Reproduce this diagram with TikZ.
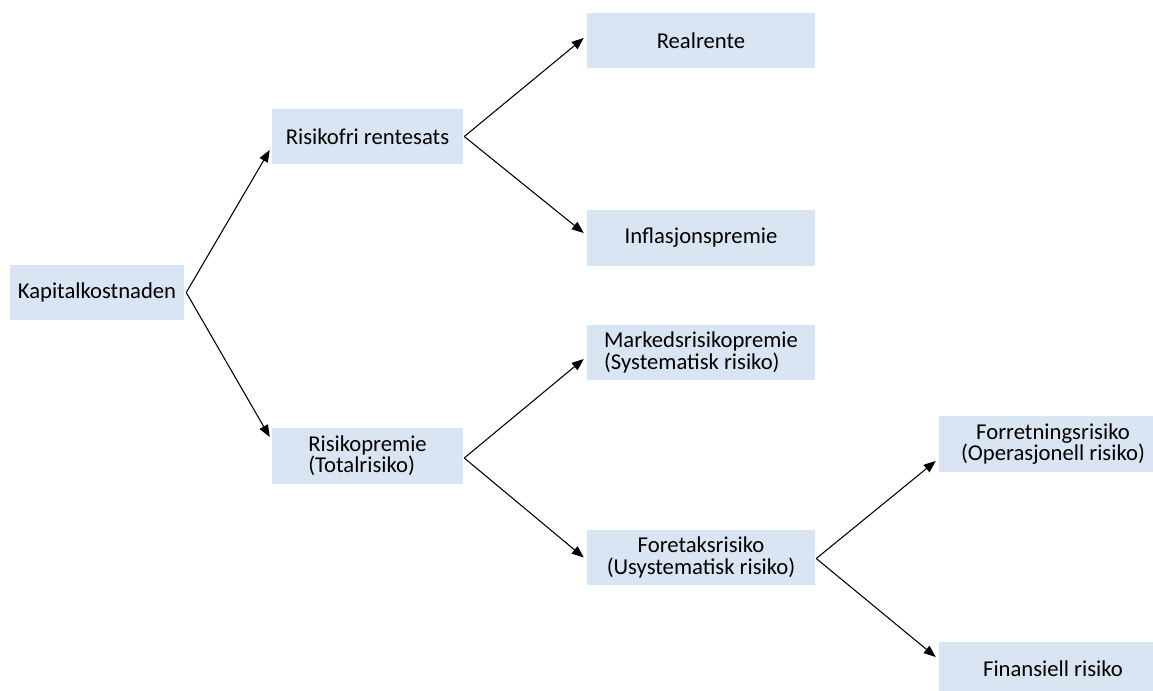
\documentclass[tikz,border=0pt]{standalone}
\usepackage{fontspec}
\setmainfont{Carlito}
\usetikzlibrary{arrows.meta,calc}
\definecolor{boxfill}{HTML}{DAE5F3}
\tikzset{
  box/.style={fill=boxfill, draw=none, minimum width=228*0.75pt, minimum height=55*0.75pt, inner sep=0pt,
              font=\fontsize{17pt}{16pt}\selectfont, text=black},
  conn/.style={line width=0.8pt, -{Triangle[length=9pt,width=7pt]}}
}
\begin{document}
\begin{tikzpicture}[x=0.75pt,y=-0.75pt]
\clip (0,0) rectangle (1153,690);
\fill[white] (0,0) rectangle (1153,690);
\node[box, minimum width=174*0.75pt] (kap) at (97,292.5) {Kapitalkostnaden};
\node[box, minimum width=191*0.75pt] (rf) at (367.5,136.5) {Risikofri rentesats};
\node[box, minimum width=191*0.75pt, minimum height=56*0.75pt, align=left] (rp) at (367.5,456) {Risikopremie\\(Totalrisiko)};
\node[box] (real) at (701,40.5) {Realrente};
\node[box, minimum height=56*0.75pt] (infl) at (701,238) {Inflasjonspremie};
\node[box, align=left] (mark) at (701,352.5) {Markedsrisikopremie\\(Systematisk risiko)};
\node[box, align=center] (fore) at (701,557.5) {Foretaksrisiko\\(Usystematisk risiko)};
\node[box, minimum height=56*0.75pt, align=center] (forr) at (1053,444) {Forretningsrisiko\\(Operasjonell risiko)};
\node[box] (fin) at (1053,669) {Finansiell risiko};
\draw[conn] ($(kap.east)+(2,0)$) -- ($(rf.west)+(-2,13.5)$);
\draw[conn] ($(kap.east)+(2,0)$) -- ($(rp.west)+(-2,-19)$);
\draw[conn] ($(rf.east)+(1,0)$) -- ($(real.west)+(-3,-2.5)$);
\draw[conn] ($(rf.east)+(1,0)$) -- ($(infl.west)+(-3,-5)$);
\draw[conn] ($(rp.east)+(1,2)$) -- ($(mark.west)+(-3,6.5)$);
\draw[conn] ($(rp.east)+(1,2)$) -- ($(fore.west)+(-3,0)$);
\draw[conn] ($(fore.east)+(1,1)$) -- ($(forr.west)+(-3,17)$);
\draw[conn] ($(fore.east)+(1,1)$) -- ($(fin.west)+(-3,-12)$);
\end{tikzpicture}
\end{document}
